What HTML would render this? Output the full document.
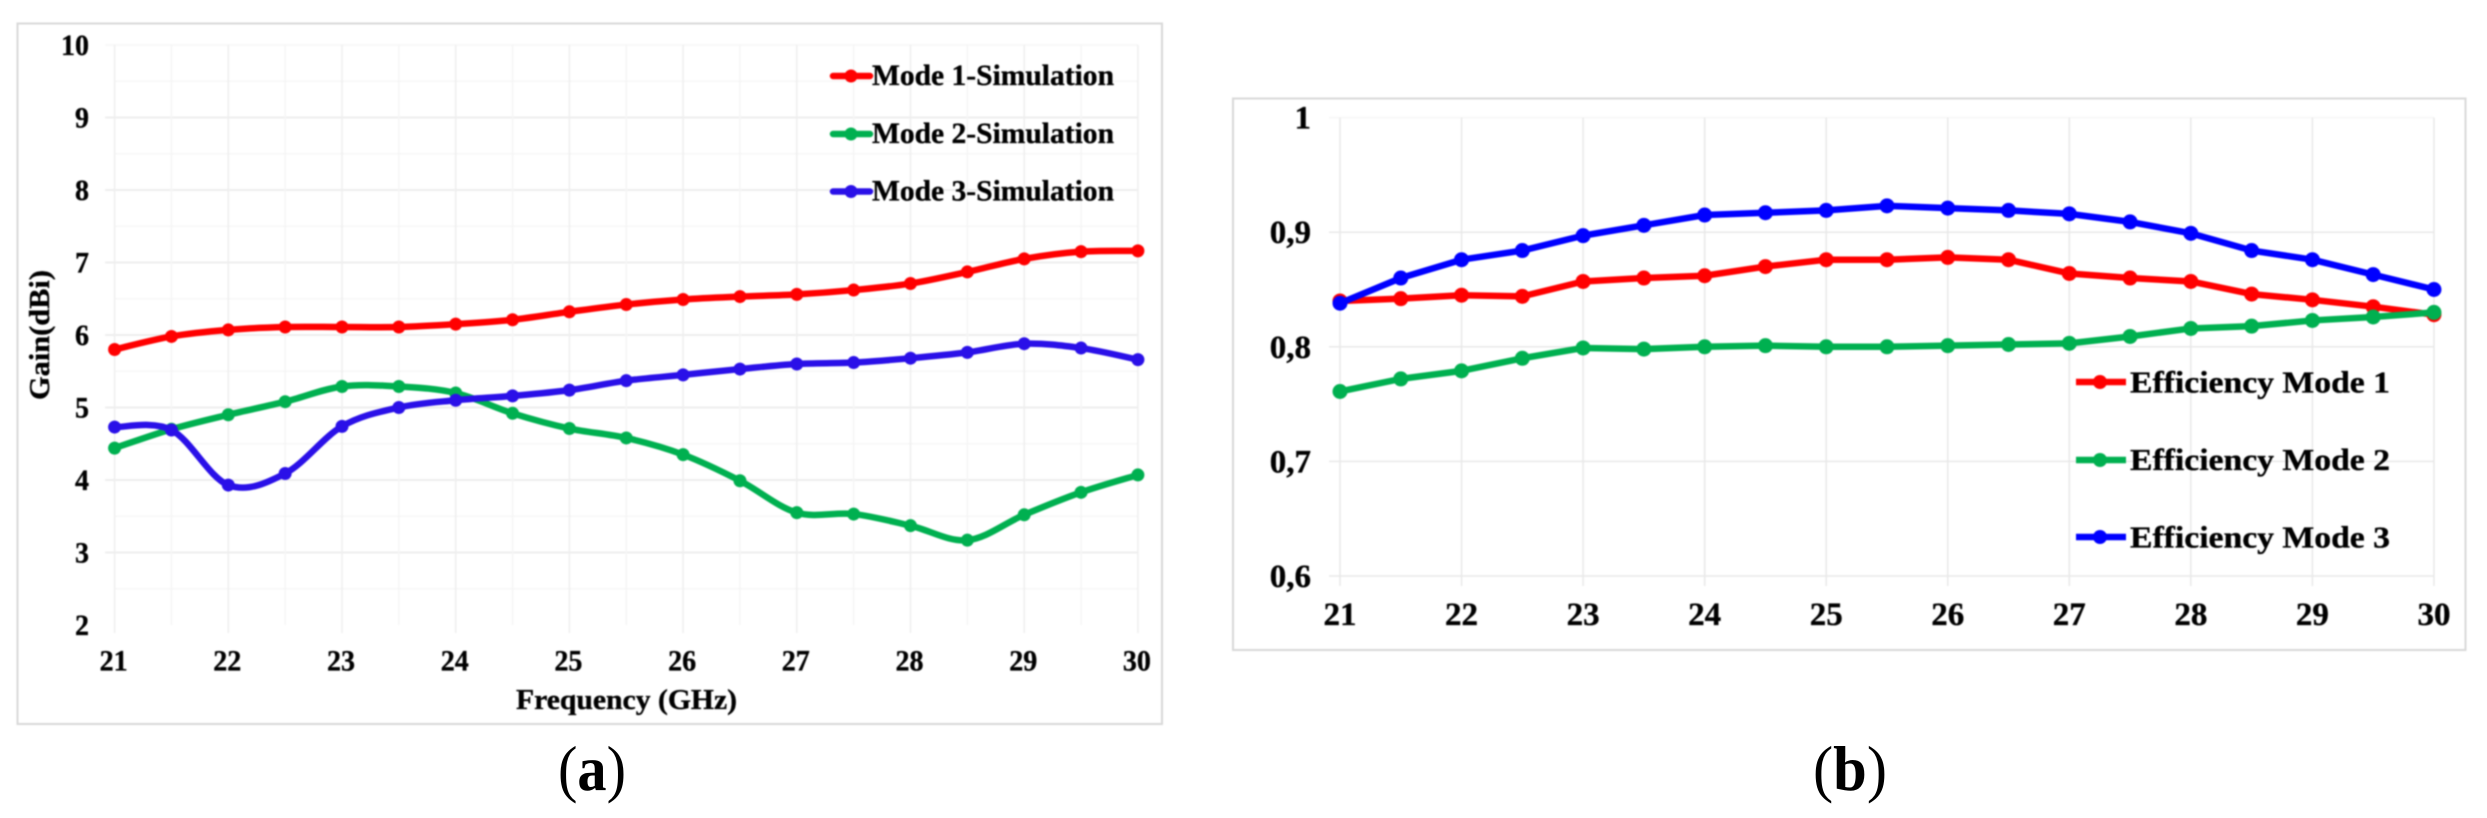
<!DOCTYPE html>
<html lang="en">
<head>
<meta charset="utf-8">
<title>Gain and efficiency versus frequency</title>
<style>
html,body{margin:0;padding:0;background:#fff;width:2487px;height:818px;overflow:hidden}
svg{display:block}
#panel-a,#panel-b{filter:blur(0.9px)}
text{font-family:"Liberation Serif",serif;font-weight:bold;fill:#000}
#panel-a text,#panel-b text{stroke:#000;stroke-width:0.35px}
</style>
</head>
<body>
<svg id="figure" xmlns="http://www.w3.org/2000/svg" width="2487" height="818" viewBox="0 0 2487 818">
  <rect width="2487" height="818" fill="#fff"/>

  <g id="panel-a">
    <rect x="17.5" y="23.5" width="1144.5" height="700.5" fill="#fff" stroke="#d8d8d8" stroke-width="2"/>
    <g id="a-grid"></g>
    <g id="a-ticks"></g>
    <g id="a-series"></g>
    <text transform="translate(49,400) rotate(-90)" font-size="28" textLength="130" lengthAdjust="spacingAndGlyphs">Gain(dBi)</text>
    <text x="516" y="709" font-size="28" textLength="221" lengthAdjust="spacingAndGlyphs">Frequency (GHz)</text>
    <g>
      <g>
        <line x1="833" x2="870" y1="76" y2="76" stroke="#ff0000" stroke-width="6.5" stroke-linecap="round"/>
        <circle cx="851" cy="76" r="6.5" fill="#ff0000"/>
        <text x="872" y="85" font-size="30" textLength="242" lengthAdjust="spacingAndGlyphs">Mode 1-Simulation</text>
      </g>
      <g>
        <line x1="833" x2="870" y1="134" y2="134" stroke="#00b050" stroke-width="6.5" stroke-linecap="round"/>
        <circle cx="851" cy="134" r="6.5" fill="#00b050"/>
        <text x="872" y="143" font-size="30" textLength="242" lengthAdjust="spacingAndGlyphs">Mode 2-Simulation</text>
      </g>
      <g>
        <line x1="833" x2="870" y1="191.5" y2="191.5" stroke="#2a10e8" stroke-width="6.5" stroke-linecap="round"/>
        <circle cx="851" cy="191.5" r="6.5" fill="#2a10e8"/>
        <text x="872" y="200.5" font-size="30" textLength="242" lengthAdjust="spacingAndGlyphs">Mode 3-Simulation</text>
      </g>
    </g>
  </g>

  <g id="panel-b">
    <rect x="1233" y="98.5" width="1232.5" height="551.5" fill="#fff" stroke="#d8d8d8" stroke-width="2"/>
    <g id="b-grid"></g>
    <g id="b-ticks"></g>
    <g id="b-series"></g>
    <g>
      <g>
        <line x1="2076" x2="2126" y1="382" y2="382" stroke="#ff0000" stroke-width="6.5"/>
        <circle cx="2100" cy="382" r="7" fill="#ff0000"/>
        <text x="2130" y="392.5" font-size="31" textLength="260" lengthAdjust="spacingAndGlyphs">Efficiency Mode 1</text>
      </g>
      <g>
        <line x1="2076" x2="2126" y1="460" y2="460" stroke="#00b050" stroke-width="6.5"/>
        <circle cx="2100" cy="460" r="7" fill="#00b050"/>
        <text x="2130" y="470" font-size="31" textLength="260" lengthAdjust="spacingAndGlyphs">Efficiency Mode 2</text>
      </g>
      <g>
        <line x1="2076" x2="2126" y1="537" y2="537" stroke="#0000ff" stroke-width="6.5"/>
        <circle cx="2100" cy="537" r="7" fill="#0000ff"/>
        <text x="2130" y="547.5" font-size="31" textLength="260" lengthAdjust="spacingAndGlyphs">Efficiency Mode 3</text>
      </g>
    </g>
  </g>

  <text x="558" y="790" font-size="63" textLength="68" lengthAdjust="spacingAndGlyphs" style="font-weight:normal;fill:#000">(<tspan style="font-weight:bold">a</tspan>)</text>
  <text x="1813" y="790" font-size="63" textLength="74" lengthAdjust="spacingAndGlyphs" style="font-weight:normal;fill:#000">(<tspan style="font-weight:bold">b</tspan>)</text>
</svg>

<script>
var frequencies = [21, 21.5, 22, 22.5, 23, 23.5, 24, 24.5, 25, 25.5, 26, 26.5, 27, 27.5, 28, 28.5, 29, 29.5, 30];
var xTickLabels = ["21", "22", "23", "24", "25", "26", "27", "28", "29", "30"];

var gainYTicks = [2, 3, 4, 5, 6, 7, 8, 9, 10];
var gainMode1 = [5.80, 5.98, 6.07, 6.11, 6.11, 6.11, 6.15, 6.21, 6.32, 6.42, 6.49, 6.53, 6.56, 6.62, 6.71, 6.87, 7.05, 7.15, 7.16];
var gainMode2 = [4.44, 4.70, 4.90, 5.08, 5.29, 5.29, 5.20, 4.92, 4.71, 4.58, 4.35, 3.99, 3.55, 3.53, 3.37, 3.17, 3.52, 3.83, 4.07];
var gainMode3 = [4.73, 4.69, 3.93, 4.09, 4.74, 5.00, 5.10, 5.16, 5.24, 5.37, 5.45, 5.53, 5.60, 5.62, 5.68, 5.76, 5.88, 5.82, 5.66];

var effYTicks = [0.6, 0.7, 0.8, 0.9, 1];
var effYTickLabels = ["0,6", "0,7", "0,8", "0,9", "1"];
var effMode1 = [0.840, 0.842, 0.845, 0.844, 0.857, 0.860, 0.862, 0.870, 0.876, 0.876, 0.878, 0.876, 0.864, 0.860, 0.857, 0.846, 0.841, 0.835, 0.828];
var effMode2 = [0.761, 0.772, 0.779, 0.790, 0.799, 0.798, 0.800, 0.801, 0.800, 0.800, 0.801, 0.802, 0.803, 0.809, 0.816, 0.818, 0.823, 0.826, 0.830];
var effMode3 = [0.838, 0.860, 0.876, 0.884, 0.897, 0.906, 0.915, 0.917, 0.919, 0.923, 0.921, 0.919, 0.916, 0.909, 0.899, 0.884, 0.876, 0.863, 0.850];

var SVGNS = "http://www.w3.org/2000/svg";

function ax(f) { return 114.6 + (f - 21) * 113.7; }
function ay(v) { return 625 - (v - 2) * 72.5; }
function bx(f) { return 1340 + (f - 21) * 121.55; }
function by(v) { return 576 - (v - 0.6) * 1146; }

function make(tag, parent) {
  var el = document.createElementNS(SVGNS, tag);
  parent.appendChild(el);
  return el;
}

function gridLine(parent, x1, y1, x2, y2, color, width) {
  var el = make("line", parent);
  
  
  el.setAttribute("x1", x1);
  el.setAttribute("y1", y1);
  el.setAttribute("x2", x2);
  el.setAttribute("y2", y2);
  el.setAttribute("stroke", color);
  el.setAttribute("stroke-width", width);
}

function tickText(parent, x, y, anchor, size, label, digitWidth) {
  var el = make("text", parent);
  
  
  el.setAttribute("x", x);
  el.setAttribute("y", y);
  el.setAttribute("text-anchor", anchor);
  el.setAttribute("font-size", size);
  if (digitWidth) {
    el.setAttribute("textLength", digitWidth * label.length);
    el.setAttribute("lengthAdjust", "spacingAndGlyphs");
  }
  el.textContent = label;
}

function smoothPath(pts) {
  var d = "M" + pts[0][0] + " " + pts[0][1];
  for (var i = 0; i < pts.length - 1; i++) {
    var p0 = pts[Math.max(i - 1, 0)], p1 = pts[i], p2 = pts[i + 1], p3 = pts[Math.min(i + 2, pts.length - 1)];
    var c1x = p1[0] + (p2[0] - p0[0]) / 6, c1y = p1[1] + (p2[1] - p0[1]) / 6;
    var c2x = p2[0] - (p3[0] - p1[0]) / 6, c2y = p2[1] - (p3[1] - p1[1]) / 6;
    d += "C" + c1x + " " + c1y + " " + c2x + " " + c2y + " " + p2[0] + " " + p2[1];
  }
  return d;
}

function straightPath(pts) {
  return "M" + pts.map(function (p) { return p[0] + " " + p[1]; }).join("L");
}

function drawSeries(parent, name, values, xf, yf, color, smooth, width, radius) {
  var pts = frequencies.map(function (f, i) { return [xf(f), yf(values[i])]; });
  var path = make("path", parent);
  
  
  path.setAttribute("d", smooth ? smoothPath(pts) : straightPath(pts));
  path.setAttribute("fill", "none");
  path.setAttribute("stroke", color);
  path.setAttribute("stroke-width", width);
  path.setAttribute("stroke-linejoin", "round");
  pts.forEach(function (p) {
    var dot = make("circle", parent);
    
    
    dot.setAttribute("cx", p[0]);
    dot.setAttribute("cy", p[1]);
    dot.setAttribute("r", radius);
    dot.setAttribute("fill", color);
  });
}

/* panel a */
var aGrid = document.getElementById("a-grid");
var aTicks = document.getElementById("a-ticks");
var aSeries = document.getElementById("a-series");
gainYTicks.forEach(function (v, i) {
  if (v > 2) {
    gridLine(aGrid, 105, ay(v), ax(30), ay(v), v === 10 ? "#f8f8f8" : "#eeeeee", 2);
    gridLine(aGrid, 115, ay(v - 0.5), ax(30), ay(v - 0.5), "#f6f6f6", 1.5);
  }
  tickText(aTicks, 89, ay(v) + 10, "end", 30, String(v), 14);
});
frequencies.forEach(function (f) {
  var major = Math.floor(f) === f;
  gridLine(aGrid, ax(f), ay(10), ax(f), major ? 633 : 625, major ? "#eeeeee" : "#f5f5f5", 1.5);
});
xTickLabels.forEach(function (label) {
  tickText(aTicks, ax(Number(label)) - 1, 670.5, "middle", 30, label, 14);
});
drawSeries(aSeries, "gain-mode-1", gainMode1, ax, ay, "#ff0000", true, 6.5, 6.5);
drawSeries(aSeries, "gain-mode-2", gainMode2, ax, ay, "#00b050", true, 6.5, 6.5);
drawSeries(aSeries, "gain-mode-3", gainMode3, ax, ay, "#2a10e8", true, 6.5, 6.5);

/* panel b */
var bGrid = document.getElementById("b-grid");
var bTicks = document.getElementById("b-ticks");
var bSeries = document.getElementById("b-series");
effYTicks.forEach(function (v, i) {
  gridLine(bGrid, 1329, by(v), bx(30), by(v), v === 1 ? "#f6f6f6" : "#e8e8e8", 1.5);
  tickText(bTicks, 1311, by(v) + 11, "end", 33, effYTickLabels[i]);
});
xTickLabels.forEach(function (label) {
  var f = Number(label);
  gridLine(bGrid, bx(f), by(1), bx(f), 586, "#e8e8e8", 1.5);
  tickText(bTicks, bx(f), 625, "middle", 33, label);
});
drawSeries(bSeries, "efficiency-mode-1", effMode1, bx, by, "#ff0000", false, 6.5, 7.5);
drawSeries(bSeries, "efficiency-mode-2", effMode2, bx, by, "#00b050", false, 6.5, 7.5);
drawSeries(bSeries, "efficiency-mode-3", effMode3, bx, by, "#0000ff", false, 6.5, 7.5);
</script>
</body>
</html>
